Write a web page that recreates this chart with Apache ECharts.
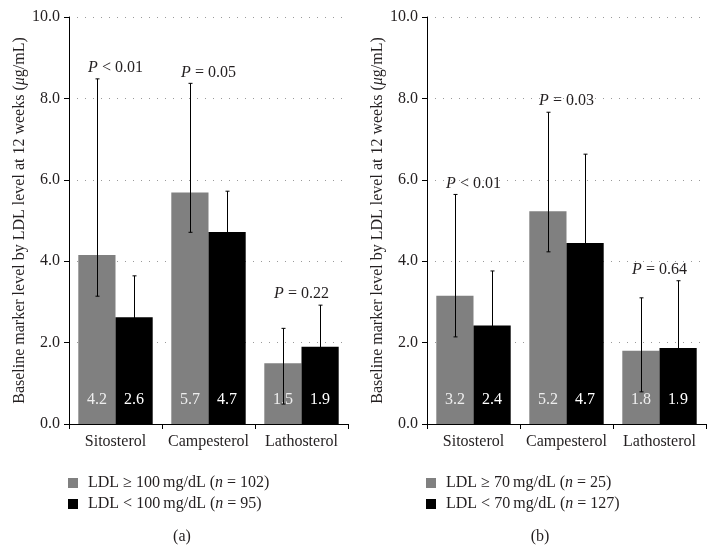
<!DOCTYPE html>
<html>
<head>
<meta charset="utf-8">
<script src="https://cdn.jsdelivr.net/npm/echarts@6/dist/echarts.min.js"></script>
<style>html,body{margin:0;padding:0;background:#fff}#c{width:718px;height:550px}</style>
</head>
<body>
<div id="c"></div>
<script>
var categories = ['Sitosterol', 'Campesterol', 'Lathosterol'];
var yTicks = [0, 2, 4, 6, 8, 10];

// Panel (a)
var aNameHigh = 'LDL \u2265 100\u2009mg/dL ({i|n} = 102)';
var aNameLow = 'LDL < 100\u2009mg/dL ({i|n} = 95)';
var aHigh = [4.15, 5.69, 1.49];
var aLow = [2.62, 4.72, 1.90];
var aHighUpper = [8.48, 8.37, 2.35];
var aHighLower = [3.14, 4.71, 0.49];
var aLowUpper = [3.64, 5.72, 2.92];
var aLowLower = [1.60, 3.72, 0.88];
var aHighLabels = ['4.2', '5.7', '1.5'];
var aLowLabels = ['2.6', '4.7', '1.9'];
var aP = ['{i|P} < 0.01', '{i|P} = 0.05', '{i|P} = 0.22'];

// Panel (b)
var bNameHigh = 'LDL \u2265 70\u2009mg/dL ({i|n} = 25)';
var bNameLow = 'LDL < 70\u2009mg/dL ({i|n} = 127)';
var bHigh = [3.15, 5.23, 1.80];
var bLow = [2.42, 4.45, 1.87];
var bHighUpper = [5.64, 7.66, 3.10];
var bHighLower = [2.14, 4.23, 0.79];
var bLowUpper = [3.76, 6.63, 3.52];
var bLowLower = [1.08, 2.27, 0.22];
var bHighLabels = ['3.2', '5.2', '1.8'];
var bLowLabels = ['2.4', '4.7', '1.9'];
var bP = ['{i|P} < 0.01', '{i|P} = 0.03', '{i|P} = 0.64'];

var FONT = '"Liberation Serif", "DejaVu Serif", serif';
var FS = 16;
var TXT = '#231f20';
var GRAY = '#808080';
var yName = 'Baseline marker level by LDL level at 12 weeks ({i|\u03bc}g/mL)';
var italic = { i: { fontStyle: 'italic', fontFamily: FONT, fontSize: FS, color: TXT } };

function xAxis(idx) {
  return {
    type: 'category', gridIndex: idx, data: categories,
    axisLine: { lineStyle: { color: '#000', width: 1 } },
    axisTick: { show: true, length: 5, interval: 0, alignWithLabel: false, lineStyle: { color: '#000' } },
    axisLabel: { color: TXT, fontFamily: FONT, fontSize: FS, margin: 10, interval: 0 }
  };
}
function yAxis(idx) {
  return {
    type: 'value', gridIndex: idx, min: 0, max: 10, interval: 2,
    name: yName, nameLocation: 'middle', nameGap: 41,
    nameTextStyle: { color: TXT, fontFamily: FONT, fontSize: FS, rich: italic },
    axisLine: { show: true, lineStyle: { color: '#000', width: 1 } },
    axisTick: { show: true, length: 5, lineStyle: { color: '#000' } },
    axisLabel: { color: TXT, fontFamily: FONT, fontSize: FS, margin: 9,
      formatter: function (v) { return yTicks.indexOf(v) >= 0 ? v.toFixed(1) : ''; } },
    splitLine: { show: true, lineStyle: { color: '#9a9a9a', type: [1, 7], width: 1 } }
  };
}
function bars(idx, name, vals, labels, color, labelColor) {
  return {
    type: 'bar', name: name, xAxisIndex: idx, yAxisIndex: idx, data: vals,
    barGap: '0%', barCategoryGap: '20%', itemStyle: { color: color },
    label: { show: true, position: 'insideBottom', distance: 16, color: labelColor,
      fontFamily: FONT, fontSize: FS, formatter: function (p) { return labels[p.dataIndex]; } },
    z: 2
  };
}
function errors(idx, upper, lower, side) {
  var data = categories.map(function (c, i) { return [i, lower[i], upper[i]]; });
  return {
    type: 'custom', xAxisIndex: idx, yAxisIndex: idx, data: data, z: 5, silent: true,
    encode: { x: 0, y: [1, 2] },
    renderItem: function (params, api) {
      var w = api.size([1, 0])[0];
      var lo = api.coord([api.value(0), api.value(1)]);
      var hi = api.coord([api.value(0), api.value(2)]);
      var x = Math.round(lo[0] + side * w * 0.2) + 0.5;
      var cap = 2;
      var st = { stroke: '#000', lineWidth: 1 };
      return { type: 'group', children: [
        { type: 'line', shape: { x1: x, y1: hi[1], x2: x, y2: lo[1] }, style: st },
        { type: 'line', shape: { x1: x - cap, y1: hi[1], x2: x + cap, y2: hi[1] }, style: st },
        { type: 'line', shape: { x1: x - cap, y1: lo[1], x2: x + cap, y2: lo[1] }, style: st }
      ] };
    }
  };
}
function pLabels(idx, texts, up1, up2) {
  var data = categories.map(function (c, i) { return [i, Math.max(up1[i], up2[i])]; });
  return {
    type: 'custom', xAxisIndex: idx, yAxisIndex: idx, data: data, z: 6, silent: true,
    renderItem: function (params, api) {
      var pt = api.coord([api.value(0), api.value(1)]);
      var i = params.dataIndex;
      return { type: 'text', x: pt[0], y: pt[1] - 3,
        style: { text: texts[i], fill: TXT, font: FS + 'px ' + FONT, align: 'center', verticalAlign: 'bottom',
          rich: { i: { fontStyle: 'italic', fontFamily: FONT, fontSize: FS, fill: TXT } } } };
    }
  };
}
function legend(left, names) {
  return {
    left: left, top: 475, orient: 'vertical', itemWidth: 10, itemHeight: 10, itemGap: 5, icon: 'rect',
    padding: 0, data: names, selectedMode: false,
    textStyle: { color: TXT, fontFamily: FONT, fontSize: FS, padding: [0, 0, 0, 5], rich: italic }
  };
}

var chart = echarts.init(document.getElementById('c'), null, { renderer: 'canvas' });
chart.setOption({
  backgroundColor: '#fff',
  animation: false,
  title: [
    { text: '(a)', left: 177, top: 524, textAlign: 'center', textStyle: { color: TXT, fontFamily: FONT, fontSize: FS, fontWeight: 'normal' } },
    { text: '(b)', left: 535, top: 524, textAlign: 'center', textStyle: { color: TXT, fontFamily: FONT, fontSize: FS, fontWeight: 'normal' } }
  ],
  grid: [
    { left: 69, right: 370, top: 17, bottom: 126 },
    { left: 427, right: 12, top: 17, bottom: 126 }
  ],
  legend: [legend(68, [aNameHigh, aNameLow]), legend(426, [bNameHigh, bNameLow])],
  xAxis: [xAxis(0), xAxis(1)],
  yAxis: [yAxis(0), yAxis(1)],
  series: [
    bars(0, aNameHigh, aHigh, aHighLabels, GRAY, '#eeeeee'),
    bars(0, aNameLow, aLow, aLowLabels, '#000000', '#ffffff'),
    errors(0, aHighUpper, aHighLower, -1),
    errors(0, aLowUpper, aLowLower, 1),
    pLabels(0, aP, aHighUpper, aLowUpper),
    bars(1, bNameHigh, bHigh, bHighLabels, GRAY, '#eeeeee'),
    bars(1, bNameLow, bLow, bLowLabels, '#000000', '#ffffff'),
    errors(1, bHighUpper, bHighLower, -1),
    errors(1, bLowUpper, bLowLower, 1),
    pLabels(1, bP, bHighUpper, bLowUpper)
  ]
});
</script>
</body>
</html>
